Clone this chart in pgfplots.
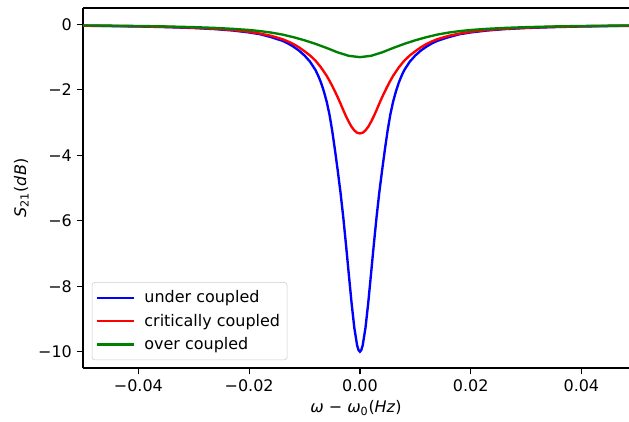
\documentclass[border=0pt]{standalone}
\usepackage{fontspec}
\setmainfont{DejaVu Sans}
\usepackage{pgfplots}
\pgfplotsset{compat=1.18}

\definecolor{mplblue}{RGB}{0,0,255}
\definecolor{mplred}{RGB}{255,0,0}
\definecolor{mplgreen}{RGB}{0,128,0}
\definecolor{legendgray}{RGB}{204,204,204}

\begin{document}
\begin{tikzpicture}

\begin{axis}[
width=393.1pt,
height=259.2pt,
scale only axis,
xmin=-0.05, xmax=0.0486,
ymin=-10.5, ymax=0.5,
scaled x ticks=false,
axis x line*=box,
axis y line*=left,
axis line style={line width=0.9pt},
tick pos=left,
tick align=outside,
major tick length=4.5pt,
every tick/.style={black, line width=0.9pt},
xtick={-0.04,-0.02,0,0.02,0.04},
xticklabels={−0.04,−0.02,0.00,0.02,0.04},
ytick={-10,-8,-6,-4,-2,0},
yticklabels={−10,−8,−6,−4,−2,0},
tick label style={font=\fontsize{11.5}{14}\selectfont},
label style={font=\fontsize{11.5}{14}\selectfont},
xlabel={\textit{ω} − \textit{ω}\textsubscript{0}(\textit{Hz})},
ylabel={\textit{S}\textsubscript{21}(\textit{dB})},
legend cell align={left},
legend style={
  at={(0.016,0.022)},
  anchor=south west,
  draw=legendgray,
  rounded corners=2pt,
  fill=white,
  fill opacity=0.8,
  text opacity=1,
  font=\fontsize{11.5}{14}\selectfont,
  inner xsep=3pt,
  inner ysep=4pt,
  row sep=2.5pt,
},
legend image code/.code={\draw[#1] (0pt,0pt) -- (26pt,0pt); \path (31pt,0pt);},
]

\addplot [line width=1.7pt, mplblue] table {%
-0.050 -0.040
-0.045 -0.050
-0.040 -0.063
-0.035 -0.082
-0.030 -0.110
-0.026 -0.145
-0.023 -0.185
-0.020 -0.245
-0.018 -0.300
-0.016 -0.390
-0.014 -0.500
-0.013 -0.580
-0.012 -0.680
-0.011 -0.800
-0.010 -0.950
-0.009 -1.140
-0.008 -1.400
-0.0075 -1.580
-0.007 -1.790
-0.0065 -2.050
-0.006 -2.360
-0.0055 -2.750
-0.005 -3.250
-0.0045 -3.840
-0.004 -4.470
-0.0035 -5.140
-0.003 -5.900
-0.0025 -6.750
-0.002 -7.640
-0.0015 -8.520
-0.001 -9.280
-0.0005 -9.810
-0.00025 -9.950
0 -10.000
0.00025 -9.950
0.0005 -9.810
0.001 -9.280
0.0015 -8.520
0.002 -7.640
0.0025 -6.750
0.003 -5.900
0.0035 -5.140
0.004 -4.470
0.0045 -3.840
0.005 -3.250
0.0055 -2.750
0.006 -2.360
0.0065 -2.050
0.007 -1.790
0.0075 -1.580
0.008 -1.400
0.009 -1.140
0.010 -0.950
0.011 -0.800
0.012 -0.680
0.013 -0.580
0.014 -0.500
0.016 -0.390
0.018 -0.300
0.020 -0.245
0.023 -0.185
0.026 -0.145
0.030 -0.110
0.035 -0.082
0.040 -0.063
0.045 -0.050
0.050 -0.040
};
\addlegendentry{under coupled}

\addplot [line width=1.7pt, mplred] table {%
-0.050 -0.037
-0.045 -0.046
-0.040 -0.058
-0.035 -0.075
-0.030 -0.100
-0.026 -0.135
-0.023 -0.170
-0.020 -0.225
-0.018 -0.280
-0.016 -0.350
-0.014 -0.450
-0.013 -0.520
-0.012 -0.600
-0.011 -0.700
-0.010 -0.820
-0.009 -0.950
-0.008 -1.110
-0.007 -1.320
-0.006 -1.570
-0.0055 -1.720
-0.005 -1.880
-0.0045 -2.050
-0.004 -2.230
-0.0035 -2.420
-0.003 -2.620
-0.0025 -2.810
-0.002 -2.980
-0.0015 -3.130
-0.001 -3.240
-0.0005 -3.310
0 -3.330
0.0005 -3.310
0.001 -3.240
0.0015 -3.130
0.002 -2.980
0.0025 -2.810
0.003 -2.620
0.0035 -2.420
0.004 -2.230
0.0045 -2.050
0.005 -1.880
0.0055 -1.720
0.006 -1.570
0.007 -1.320
0.008 -1.110
0.009 -0.950
0.010 -0.820
0.011 -0.700
0.012 -0.600
0.013 -0.520
0.014 -0.450
0.016 -0.350
0.018 -0.280
0.020 -0.225
0.023 -0.170
0.026 -0.135
0.030 -0.100
0.035 -0.075
0.040 -0.058
0.045 -0.046
0.050 -0.037
};
\addlegendentry{critically coupled}

\addplot [line width=1.7pt, mplgreen] table {%
-0.050 -0.031
-0.045 -0.038
-0.040 -0.048
-0.035 -0.062
-0.030 -0.083
-0.026 -0.108
-0.023 -0.135
-0.020 -0.170
-0.018 -0.205
-0.016 -0.250
-0.014 -0.310
-0.012 -0.390
-0.010 -0.485
-0.008 -0.595
-0.006 -0.720
-0.004 -0.855
-0.002 -0.960
0 -1.000
0.002 -0.960
0.004 -0.855
0.006 -0.720
0.008 -0.595
0.010 -0.485
0.012 -0.390
0.014 -0.310
0.016 -0.250
0.018 -0.205
0.020 -0.170
0.023 -0.135
0.026 -0.108
0.030 -0.083
0.035 -0.062
0.040 -0.048
0.045 -0.038
0.050 -0.031
};
\addlegendentry{over coupled}

\end{axis}

\pgfresetboundingbox
\path[use as bounding box] ([xshift=-59.8pt,yshift=-38.2pt]current axis.south west) rectangle ([yshift=5.8pt]current axis.north east);

\end{tikzpicture}
\end{document}
